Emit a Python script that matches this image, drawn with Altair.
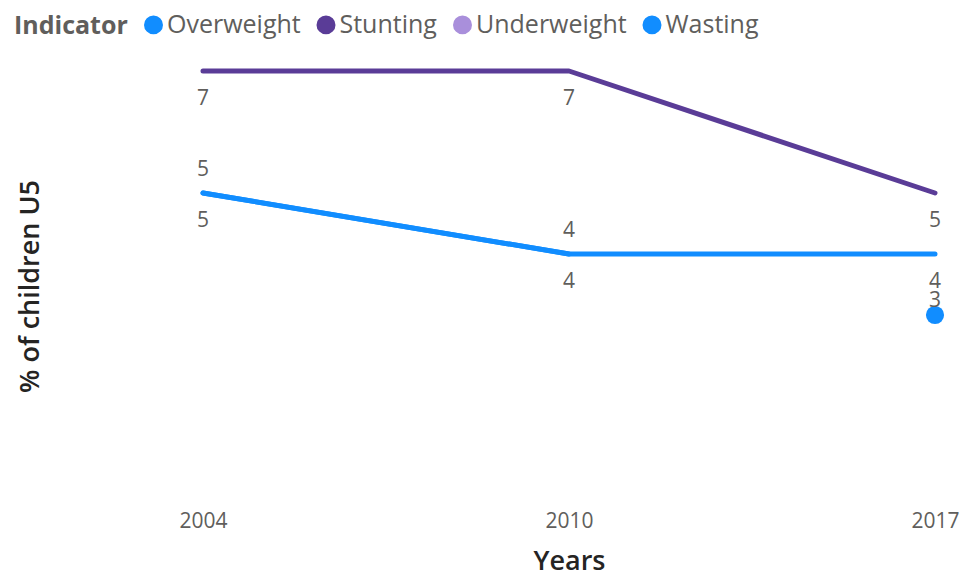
import altair as alt
import pandas as pd

# ---- data ----
indicators = ["Overweight", "Stunting", "Underweight", "Wasting"]
colors = ["#118DFF", "#5A3C97", "#A98FDB", "#118DFF"]
years = ["2004", "2010", "2017"]
overweight = [5, 4, 4]
stunting = [7, 7, 5]
wasting = [5, 4, 3]
# Wasting line is broken before 2017 (2017 shown as an isolated dot)
wasting_segment = ["w1", "w1", "w2"]

rows = []
for y, v in zip(years, overweight):
    rows.append({"Indicator": "Overweight", "Year": y, "Value": v, "Seg": "o1", "Pos": "below"})
for y, v in zip(years, stunting):
    rows.append({"Indicator": "Stunting", "Year": y, "Value": v, "Seg": "s1", "Pos": "below"})
for y, v, s in zip(years, wasting, wasting_segment):
    rows.append({"Indicator": "Wasting", "Year": y, "Value": v, "Seg": s, "Pos": "above"})
df = pd.DataFrame(rows)
seg_sizes = df.groupby("Seg")["Seg"].transform("size")
df["Single"] = seg_sizes == 1

FONT = "Open Sans"
GRAY = "#605E5C"
DARK = "#252423"

color_scale = alt.Scale(domain=indicators, range=colors)

x_enc = alt.X(
    "Year:O",
    scale=alt.Scale(type="point", padding=0),
    axis=alt.Axis(
        title="Years", labelAngle=0, labelFont=FONT, labelFontSize=21, labelColor=GRAY,
        labelPadding=12, ticks=False, domain=False, grid=False,
        titleFont=FONT, titleFontSize=27, titleFontWeight=600, titleColor=DARK,
        titleY=71, titleBaseline="alphabetic",
    ),
)
y_enc = alt.Y(
    "Value:Q",
    scale=alt.Scale(domain=[0, 7], nice=False, zero=True),
    axis=alt.Axis(
        title="% of children U5", labels=False, ticks=False, domain=False, grid=False,
        titleFont=FONT, titleFontSize=27, titleFontWeight=600, titleColor=DARK,
        titleX=-173, titleY=215, titleBaseline="middle",
    ),
)

base = alt.Chart(df)

lines = base.transform_filter("!datum.Single").mark_line(strokeWidth=5, strokeCap="round", strokeJoin="round").encode(
    x=x_enc, y=y_enc,
    color=alt.Color(
        "Indicator:N", scale=color_scale,
        legend=alt.Legend(
            title="Indicator", orient="none", direction="horizontal", legendX=-189, legendY=-59,
            titleOrient="left", titleFont=FONT, titleFontSize=25, titleFontWeight="bold",
            titleColor=GRAY, titlePadding=13, titleBaseline="line-bottom", titleLineHeight=6.5,
            labelFont=FONT, labelFontSize=25, labelColor=GRAY, labelOffset=1,
            symbolType="circle", symbolSize=90, symbolStrokeWidth=9.5, symbolOpacity=1,
            columnPadding=0.5,
        ),
    ),
    detail="Seg:N",
)

dots = base.transform_filter("datum.Single").mark_circle(size=330, opacity=1, color="#118DFF").encode(
    x=x_enc, y=y_enc,
)

txt_style = dict(font=FONT, fontSize=21, color=GRAY)

labels_below = base.transform_filter("datum.Pos == 'below'").mark_text(dy=28, **txt_style).encode(
    x=x_enc, y=y_enc, text="Value:Q"
)
labels_above = base.transform_filter("datum.Pos == 'above' && !datum.Single").mark_text(dy=-23, **txt_style).encode(
    x=x_enc, y=y_enc, text="Value:Q"
)
labels_single = base.transform_filter("datum.Single").mark_text(dy=-14, **txt_style).encode(
    x=x_enc, y=y_enc, text="Value:Q"
)

chart = alt.layer(lines, dots, labels_below, labels_above, labels_single).properties(
    width=732, height=427,
    autosize=alt.AutoSizeParams(type="none"),
    padding={"left": 195, "top": 63, "right": 32, "bottom": 77},
).configure(background="white").configure_view(strokeWidth=0, stroke=None)

chart.save("out.html", embed_options={"renderer": "svg", "actions": False})
